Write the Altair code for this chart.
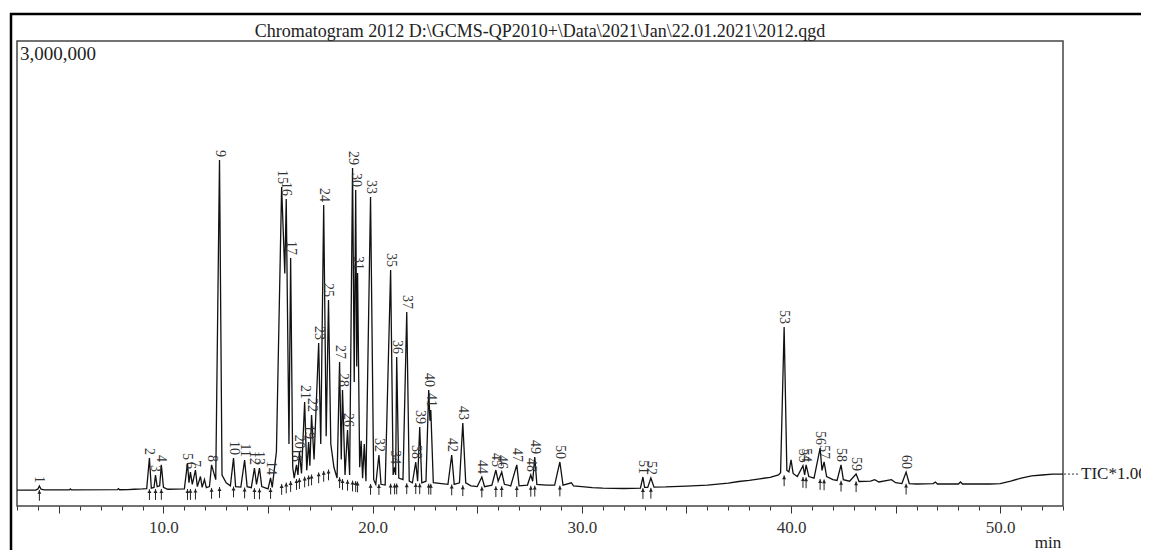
import altair as alt
import pandas as pd
import numpy as np

TITLE = r"Chromatogram 2012 D:\GCMS-QP2010+\Data\2021\Jan\22.01.2021\2012.qgd"
Y_TOP_LABEL = "3,000,000"
TRACE_LABEL = "TIC*1.00"
X_UNIT = "min"
FONT = "Liberation Serif"

# ---- TIC trace (time in min, intensity in thousands of counts)
trace_time = [3.0, 3.9, 4.0, 4.07, 4.15, 4.3, 5.5, 5.55, 5.6, 7.8, 7.85, 7.9, 8.3, 8.6, 9.0, 9.2,
              9.33, 9.42, 9.55, 9.62, 9.7, 9.82, 9.90, 10.0, 10.2, 11.0, 11.15, 11.22, 11.29, 11.38,
              11.53, 11.62, 11.77, 11.85, 11.96, 12.05, 12.2, 12.30, 12.5, 12.68, 12.8, 13.0, 13.2,
              13.35, 13.45, 13.7, 13.88, 14.0, 14.2, 14.35, 14.45, 14.59, 14.7, 14.9, 15.0, 15.12,
              15.2, 15.4, 15.65, 15.8, 15.87, 16.0, 16.08, 16.18, 16.25, 16.36, 16.43, 16.5, 16.6,
              16.75, 16.85, 16.94, 17.0, 17.08, 17.2, 17.42, 17.52, 17.66, 17.78, 17.89, 18.0, 18.15,
              18.3, 18.42, 18.5, 18.56, 18.68, 18.80, 18.9, 19.04, 19.12, 19.19, 19.24, 19.28, 19.38,
              19.45, 19.52, 19.6, 19.68, 19.90, 20.05, 20.15, 20.3, 20.4, 20.6, 20.86, 20.98, 21.05,
              21.1, 21.15, 21.25, 21.45, 21.63, 21.75, 21.9, 22.06, 22.15, 22.25, 22.35, 22.55, 22.68,
              22.74, 22.78, 22.9, 23.3, 23.6, 23.78, 23.9, 24.15, 24.31, 24.45, 24.7, 25.0, 25.22,
              25.35, 25.7, 25.89, 26.0, 26.17, 26.3, 26.6, 26.89, 27.0, 27.4, 27.56, 27.65, 27.75,
              27.85, 28.3, 28.7, 28.95, 29.1, 29.5, 29.6, 30.0, 30.5, 31.0, 32.0, 32.8, 32.92, 33.0,
              33.15, 33.30, 33.45, 34.0, 35.0, 36.0, 37.0, 37.5, 38.0, 38.5, 39.0, 39.4, 39.5, 39.67,
              39.8, 39.9, 40.0, 40.1, 40.3, 40.57, 40.65, 40.72, 40.85, 41.1, 41.39, 41.48, 41.58,
              41.7, 42.0, 42.2, 42.39, 42.5, 42.8, 43.11, 43.25, 43.8, 44.0, 44.2, 44.8, 45.0, 45.3,
              45.5, 45.65, 46.0, 46.8, 46.9, 47.0, 48.0, 48.1, 48.2, 49.5, 50.0, 50.5, 51.0, 51.5,
              52.0, 52.5, 53.0]
trace_kcounts = [103, 103, 110, 129, 108, 104, 104, 110, 104, 105, 112, 105, 106, 108, 110, 112,
                 310, 115, 120, 200, 125, 130, 265, 120, 108, 110, 277, 150, 219, 140,
                 232, 125, 190, 120, 170, 118, 125, 265, 170, 2232, 200, 150, 130,
                 310, 125, 122, 297, 125, 118, 245, 140, 245, 125, 115, 110, 181,
                 120, 350, 2058, 1500, 1980, 400, 1600, 250, 180, 265, 200, 350, 210,
                 671, 230, 413, 260, 587, 300, 1052, 400, 1942, 450, 1329, 400, 250,
                 180, 929, 300, 748, 200, 490, 200, 2181, 800, 2039, 900, 1503, 250,
                 420, 180, 400, 160, 1994, 170, 140, 329, 140, 135, 1523, 200, 250,
                 200, 961, 180, 170, 1252, 160, 150, 284, 160, 510, 150, 160, 748,
                 550, 619, 150, 145, 140, 329, 140, 150, 535, 150, 130, 125, 187,
                 125, 135, 232, 160, 219, 140, 130, 265, 130, 135, 200, 160, 316,
                 140, 135, 135, 284, 135, 150, 130, 125, 118, 115, 113, 115, 187, 120,
                 120, 181, 122, 123, 128, 135, 148, 158, 165, 175, 185, 200, 215, 1155,
                 230, 220, 297, 210, 190, 260, 200, 265, 190, 180, 374, 230, 284,
                 190, 170, 165, 265, 170, 160, 206, 158, 160, 170, 155, 170, 150, 145,
                 219, 145, 142, 145, 155, 142, 142, 155, 142, 142, 145, 160, 180, 195,
                 200, 205, 206]

# ---- labelled peaks
peak_ids = [str(i) for i in range(1, 61)]
peak_time = [4.07, 9.33, 9.62, 9.90, 11.15, 11.29, 11.53, 12.30, 12.68, 13.35,
             13.88, 14.35, 14.59, 15.12, 15.65, 15.87, 16.08, 16.36, 16.94, 16.50,
             16.75, 17.08, 17.42, 17.66, 17.89, 18.80, 18.42, 18.56, 19.04, 19.19,
             19.28, 20.30, 19.90, 21.05, 20.86, 21.15, 21.63, 22.06, 22.25, 22.68,
             22.78, 23.78, 24.31, 25.22, 25.89, 26.17, 26.89, 27.56, 27.75, 28.95,
             32.92, 33.30, 39.67, 40.72, 40.57, 41.39, 41.58, 42.39, 43.11, 45.50]
peak_kcounts = [129, 310, 200, 265, 277, 219, 232, 265, 2232, 310,
                297, 245, 245, 181, 2058, 1980, 1600, 265, 413, 350,
                671, 587, 1052, 1942, 1329, 490, 929, 748, 2181, 2039,
                1503, 329, 1994, 250, 1523, 961, 1252, 284, 510, 748,
                619, 329, 535, 187, 232, 219, 265, 200, 316, 284,
                187, 181, 1155, 265, 260, 374, 284, 265, 206, 219]

# ---- integration baseline under the peaks (where the arrows sit)
base_time = [3, 9, 10, 11, 12.5, 13, 14, 15, 15.5, 16.5, 17.5, 18, 18.5, 19, 20, 21, 22, 23, 24,
             25, 26, 27, 28, 29, 30, 32, 34, 36, 38, 39.5, 40.5, 42, 44, 46, 50, 51, 52, 53]
base_kcounts = [103, 108, 110, 108, 118, 130, 118, 110, 135, 180, 220, 240, 175, 165, 140, 145,
                148, 142, 138, 125, 128, 128, 132, 132, 122, 112, 120, 132, 162, 200, 188, 165,
                155, 140, 143, 178, 198, 205]

x_minor = list(range(3, 54))
x_major = list(range(5, 55, 5))

trace_df = pd.DataFrame({"t": trace_time, "i": np.array(trace_kcounts) * 1000})
base = np.interp(peak_time, base_time, base_kcounts) * 1000
peaks_df = pd.DataFrame({
    "id": peak_ids, "t": peak_time, "i": np.array(peak_kcounts) * 1000,
    "base": base, "tail": base - 70000, "head": base - 14000,
})
end_df = trace_df.tail(1)

xs = alt.Scale(domain=[3, 53], nice=False, zero=False)
ys = alt.Scale(domain=[0, 3000000], nice=False, zero=False)

minor_axis = alt.Axis(orient="bottom", values=x_minor, tickSize=4, labels=False, domain=False,
                      grid=False, title=None, tickColor="#333", tickWidth=1)
major_axis = alt.Axis(orient="bottom", values=x_major, tickSize=7, domain=False, grid=False,
                      title=None,
                      labelExpr="datum.value % 10 == 0 ? format(datum.value, '.1f') : ''",
                      labelFont=FONT, labelFontSize=17, labelColor="#333", labelPadding=6,
                      labelOverlap=False, tickColor="#333", tickWidth=1)

trace = alt.Chart(trace_df).mark_line(color="#111", strokeWidth=1.3, clip=True).encode(
    x=alt.X("t:Q", scale=xs, axis=minor_axis),
    y=alt.Y("i:Q", scale=ys, axis=None),
)

arrows = alt.Chart(peaks_df).mark_rule(color="#222", strokeWidth=1).encode(
    x=alt.X("t:Q", scale=xs, axis=major_axis),
    y=alt.Y("tail:Q", scale=ys, axis=None),
    y2="base:Q",
)
heads = alt.Chart(peaks_df).mark_point(shape="triangle-up", filled=True, size=16,
                                       color="#222", opacity=1).encode(
    x=alt.X("t:Q", scale=xs, axis=None),
    y=alt.Y("head:Q", scale=ys, axis=None),
)

labels = alt.Chart(peaks_df).mark_text(angle=90, align="right", baseline="middle", dx=-3,
                                       font=FONT, fontSize=14, color="#333").encode(
    x=alt.X("t:Q", scale=xs, axis=None),
    y=alt.Y("i:Q", scale=ys, axis=None),
    text="id:N",
)

leader = alt.Chart(end_df).mark_rule(color="#333", strokeDash=[2, 2], strokeWidth=1).encode(
    x=alt.value(1047), x2=alt.value(1063),
    y=alt.Y("i:Q", scale=ys, axis=None),
)
tic_text = alt.Chart(end_df).mark_text(align="left", baseline="middle", font=FONT,
                                       fontSize=17, color="#222").encode(
    x=alt.value(1064),
    y=alt.Y("i:Q", scale=ys, axis=None),
    text=alt.value(TRACE_LABEL),
)

one = pd.DataFrame({"k": [0]})
title = alt.Chart(one).mark_text(align="center", baseline="alphabetic", font=FONT,
                                 fontSize=18, color="#222").encode(
    x=alt.value(523), y=alt.value(-4), text=alt.value(TITLE))
ytop = alt.Chart(one).mark_text(align="left", baseline="alphabetic", font=FONT,
                                fontSize=19, color="#222").encode(
    x=alt.value(3), y=alt.value(19), text=alt.value(Y_TOP_LABEL))
unit = alt.Chart(one).mark_text(align="center", baseline="alphabetic", font=FONT,
                                fontSize=17, color="#222").encode(
    x=alt.value(1031), y=alt.value(507), text=alt.value(X_UNIT))

frame_left = alt.Chart(one).mark_rule(color="#000", strokeWidth=2.5).encode(
    x=alt.value(-6), y=alt.value(-28), y2=alt.value(700))
frame_top = alt.Chart(one).mark_rule(color="#000", strokeWidth=2.5).encode(
    x=alt.value(-7), x2=alt.value(1300), y=alt.value(-27))

chart = alt.layer(
    trace, arrows, heads, labels, leader, tic_text, title, ytop, unit, frame_left, frame_top
).resolve_axis(x="independent").resolve_scale(x="shared", y="shared").properties(
    width=1046, height=465,
    autosize=alt.AutoSizeParams(type="none"),
    padding={"left": 9, "top": 33, "right": 78, "bottom": 44},
    background="white",
).configure_view(stroke="#444", strokeWidth=1.5)

chart.save("out.html", embed_options={"renderer": "svg", "actions": False})
